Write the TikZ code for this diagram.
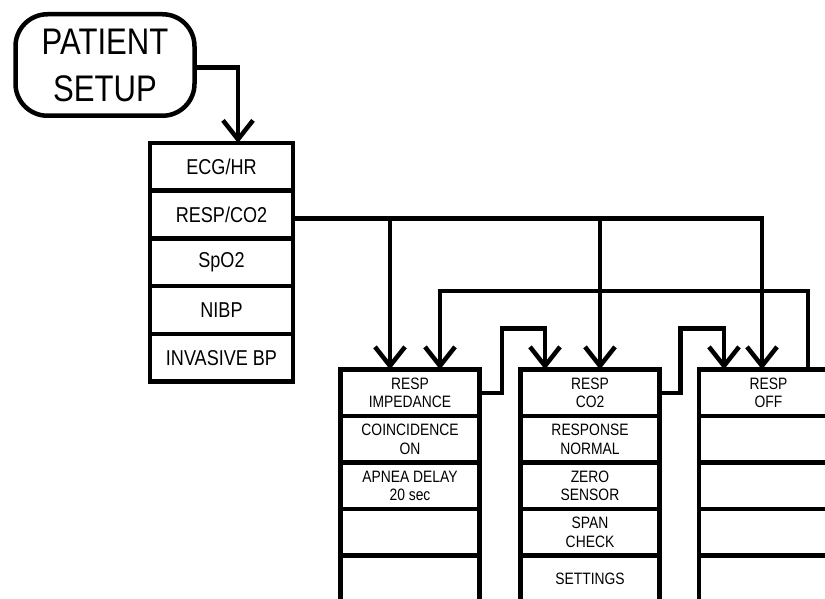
\documentclass[tikz,border=0pt]{standalone}
\usepackage{fontspec}
\setmainfont{Liberation Sans}[FakeStretch=0.84]
\usetikzlibrary{arrows.meta,positioning}

\begin{document}
\begin{tikzpicture}[
  x=1pt, y=-1pt,
  line width=4.5pt,
  title/.style={draw, rounded corners=32pt, align=center, minimum width=179pt, minimum height=101.5pt, fill=white, font=\fontsize{37}{47}\selectfont},
  menu/.style={draw, outer sep=0pt, inner sep=1pt, align=center, minimum width=143pt, minimum height=47.7pt, fill=white, font=\fontsize{21.5}{24}\selectfont},
  row/.style={draw, outer sep=0pt, inner sep=1pt, align=center, minimum width=139pt, minimum height=46.5pt, fill=white, font=\fontsize{16.5}{18.5}\selectfont},
  arrow/.style={-{Straight Barb[length=19pt, width=30pt]}, line width=4.5pt}
]
\useasboundingbox (0,0) rectangle (825,599);
\clip (0,0) rectangle (825,599);

\node[title] (setup) at (105,65) {PATIENT\\SETUP};

\node[menu, anchor=north west] (ecg) at (150,143) {ECG/HR};
\node[menu, below=0pt of ecg] (resp) {RESP/CO2};
\node[menu, below=0pt of resp] (spo) {SpO2};
\node[menu, below=0pt of spo] (nibp) {NIBP};
\node[menu, below=0pt of nibp] (ibp) {INVASIVE BP};

\node[row, anchor=north west] (imp) at (340.5,369.5) {RESP\\IMPEDANCE};
\node[row, below=0pt of imp] (coinc) {COINCIDENCE\\ON};
\node[row, below=0pt of coinc] (apnea) {APNEA DELAY\\20 sec};
\node[row, below=0pt of apnea] (impA) {};
\node[row, below=0pt of impA] (impB) {};

\node[row, anchor=north west] (co2) at (520.5,369.5) {RESP\\CO2};
\node[row, below=0pt of co2] (response) {RESPONSE\\NORMAL};
\node[row, below=0pt of response] (zero) {ZERO\\SENSOR};
\node[row, below=0pt of zero] (span) {SPAN\\CHECK};
\node[row, below=0pt of span] (settings) {SETTINGS};

\node[row, anchor=north west] (off) at (699,369.5) {RESP\\OFF};
\node[row, below=0pt of off] (offA) {};
\node[row, below=0pt of offA] (offB) {};
\node[row, below=0pt of offB] (offC) {};
\node[row, below=0pt of offC] (offD) {};

\draw[arrow] ([yshift=-2.5pt]setup.east) -| ([xshift=16.5pt]ecg.north);

% RESP/CO2 feeds all three modes
\coordinate (bus) at ([yshift=-4pt]resp.east);
\coordinate (tapImp) at ([xshift=-20pt]imp.north);
\coordinate (tapCo2) at ([xshift=10pt]co2.north);
\draw[arrow] (bus) -| ([xshift=-6.5pt]off.north);
\draw[arrow] (tapImp |- bus) -- (tapImp);
\draw[arrow] (tapCo2 |- bus) -- (tapCo2);

% cycling between modes
\draw[arrow] (imp.east) -- ++(22.5,0) -- ++(0,-64.25) -| ([xshift=-45pt]co2.north);
\draw[arrow] (co2.east) -- ++(21,0) -- ++(0,-64.25) -| ([xshift=-44.5pt]off.north);
\draw[arrow] ([xshift=39.5pt]off.north) -- ++(0,-78.5) -| ([xshift=30pt]imp.north);

\end{tikzpicture}
\end{document}
